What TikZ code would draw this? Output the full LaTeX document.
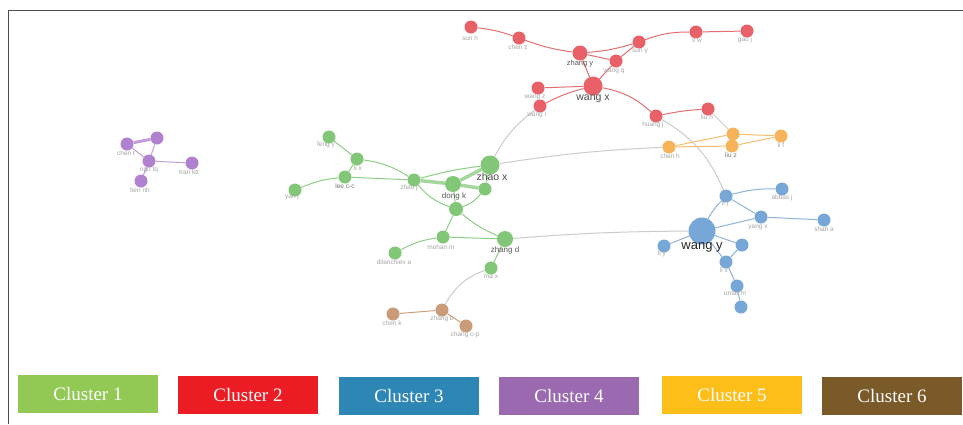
\documentclass[tikz,border=0pt]{standalone}
\usepackage{fontspec}
\setmainfont{Liberation Sans}
\newfontfamily\legfont{Liberation Serif}
\definecolor{nred}{RGB}{230,70,78}
\definecolor{ngreen}{RGB}{108,190,96}
\definecolor{nblue}{RGB}{96,152,208}
\definecolor{norange}{RGB}{245,166,60}
\definecolor{npurple}{RGB}{163,108,198}
\definecolor{nbrown}{RGB}{195,138,98}
\definecolor{ered}{RGB}{229,110,115}
\definecolor{egreen}{RGB}{140,206,132}
\definecolor{eblue}{RGB}{140,180,222}
\definecolor{eorange}{RGB}{248,190,110}
\definecolor{epurple}{RGB}{196,156,218}
\definecolor{ebrown}{RGB}{210,160,126}
\definecolor{egray}{RGB}{204,204,204}
\definecolor{labgray}{RGB}{165,165,165}
\definecolor{cA}{RGB}{146,201,85}
\definecolor{cB}{RGB}{236,28,36}
\definecolor{cC}{RGB}{46,134,181}
\definecolor{cD}{RGB}{155,105,176}
\definecolor{cE}{RGB}{253,190,25}
\definecolor{cF}{RGB}{123,90,42}
\tikzset{
  nd/.style={circle,inner sep=0pt,minimum size=13pt,fill opacity=0.85},
  rn/.style={nd,fill=nred},
  gn/.style={nd,fill=ngreen},
  bn/.style={nd,fill=nblue},
  on/.style={nd,fill=norange},
  pn/.style={nd,fill=npurple},
  brn/.style={nd,fill=nbrown},
  lab/.style={inner sep=0pt,text=labgray,font=\fontsize{6.5}{7.5}\selectfont},
  blab/.style={inner sep=0pt,text=black!70,font=\fontsize{10.5}{12}\selectfont},
  mlab/.style={inner sep=0pt,text=black!65,font=\fontsize{8}{9}\selectfont},
  re/.style={draw=ered,line width=1pt},
  ge/.style={draw=egreen,line width=1pt},
  gth/.style={draw=egreen,line width=3.5pt,draw opacity=0.8},
  be/.style={draw=eblue,line width=1pt},
  oe/.style={draw=eorange,line width=1pt},
  pe/.style={draw=epurple,line width=1pt},
  pth/.style={draw=epurple,line width=3pt},
  bre/.style={draw=ebrown,line width=1pt},
  xe/.style={draw=egray,line width=1pt},
  legbox/.style={minimum width=140pt,minimum height=38pt,inner sep=0pt,text=white,font=\legfont\fontsize{19}{22}\selectfont}
}
\begin{document}
\begin{tikzpicture}[x=1pt,y=-1pt]
\useasboundingbox (0,0) rectangle (963,424);
\fill[white] (0,0) rectangle (963,424);
\coordinate (f1) at (8,424);
\coordinate (f2) at (8,10);
\coordinate (f3) at (963,10);
\draw[black!70,line width=1pt] (f1) -- (f2) -- (f3);

% ---------- red cluster
\node[rn] (sunh) at (471,27) {};
\node[rn] (chenz) at (519,38) {};
\node[rn,minimum size=15pt] (zhangy) at (580,53) {};
\node[rn] (wangq) at (616,61) {};
\node[rn] (suny) at (639,42) {};
\node[rn] (liw) at (696,32) {};
\node[rn] (gaoj) at (747,31) {};
\node[rn,minimum size=19pt] (wangx) at (593,86) {};
\node[rn] (wangz) at (538,88) {};
\node[rn] (wangr) at (540,106) {};
\node[rn] (huangj) at (656,116) {};
\node[rn] (liuh) at (708,109) {};

% ---------- green cluster
\node[gn] (fengy) at (329,137) {};
\node[gn] (lix) at (357,159) {};
\node[gn] (leecc) at (345,177) {};
\node[gn] (yanj) at (295,190) {};
\node[gn] (zhaoj) at (414,180) {};
\node[gn,minimum size=19pt] (zhaox) at (490,165) {};
\node[gn,minimum size=16pt] (dongk) at (453,184) {};
\node[gn] (gsa) at (485,189) {};
\node[gn,minimum size=14pt] (gsb) at (456,209) {};
\node[gn] (mohanm) at (443,237) {};
\node[gn,minimum size=16pt] (zhangd) at (505,239) {};
\node[gn] (dilan) at (395,253) {};
\node[gn] (max) at (491,268) {};

% ---------- blue cluster
\node[bn] (lij) at (726,196) {};
\node[bn] (abbasj) at (782,189) {};
\node[bn] (yangx) at (761,217) {};
\node[bn] (shaha) at (824,220) {};
\node[bn,minimum size=27pt] (wangy) at (702,231) {};
\node[bn] (liy) at (664,246) {};
\node[bn] (bxa) at (742,245) {};
\node[bn] (bxb) at (726,262) {};
\node[bn] (umarm) at (737,286) {};
\node[bn] (bxc) at (741,307) {};

% ---------- orange cluster
\node[on] (chenh) at (669,147) {};
\node[on] (liuza) at (733,134) {};
\node[on] (liuzb) at (732,146) {};
\node[on] (lif) at (781,136) {};

% ---------- purple cluster
\node[pn] (chent) at (127,144) {};
\node[pn] (pxa) at (157,138) {};
\node[pn] (ngotq) at (149,161) {};
\node[pn] (tran) at (192,163) {};
\node[pn] (tiennh) at (141,181) {};

% ---------- brown cluster
\node[brn] (chenk) at (393,314) {};
\node[brn] (zhangb) at (442,310) {};
\node[brn] (changcp) at (466,326) {};

% ---------- cross-cluster edges
\draw[xe] (wangr) to[bend right=12] (zhaox);
\draw[xe] (zhaox) to[bend left=3] (chenh);
\draw[xe] (huangj) to[bend left=18] (lij);
\draw[xe] (liuh) -- (liuza);
\draw[xe] (zhangd) to[bend left=2] (wangy);
\draw[xe] (max) to[bend right=20] (zhangb);

% ---------- red edges
\draw[re] (sunh) to[bend left=6] (chenz);
\draw[re] (chenz) to[bend right=6] (zhangy);
\draw[re] (zhangy) to[bend right=6] (suny);
\draw[re] (suny) to[bend left=10] (liw);
\draw[re] (liw) -- (gaoj);
\draw[re] (zhangy) -- (wangq);
\draw[re] (zhangy) -- (wangx);
\draw[re] (wangq) -- (wangx);
\draw[re] (wangq) -- (suny);
\draw[re] (wangz) -- (wangx);
\draw[re] (wangr) to[bend left=6] (wangx);
\draw[re] (wangx) to[bend left=15] (huangj);
\draw[re] (huangj) to[bend left=4] (liuh);

% ---------- green edges
\draw[ge] (fengy) -- (lix);
\draw[ge] (lix) -- (leecc);
\draw[ge] (lix) to[bend left=12] (zhaoj);
\draw[ge] (yanj) to[bend left=8] (leecc);
\draw[ge] (leecc) -- (zhaoj);
\draw[ge] (zhaoj) to[bend left=4] (zhaox);
\draw[gth] (zhaoj) -- (dongk);
\draw[gth] (dongk) -- (zhaox);
\draw[gth] (dongk) -- (gsa);
\draw[ge] (zhaox) -- (gsa);
\draw[ge] (zhaoj) to[bend right=15] (gsb);
\draw[ge] (gsa) to[bend left=15] (gsb);
\draw[ge] (dongk) -- (gsb);
\draw[ge] (gsb) -- (mohanm);
\draw[ge] (gsb) to[bend right=8] (zhangd);
\draw[ge] (mohanm) to[bend right=10] (dilan);
\draw[ge] (mohanm) -- (zhangd);
\draw[ge] (zhangd) -- (max);

% ---------- blue edges
\draw[be] (lij) to[bend left=8] (abbasj);
\draw[be] (lij) -- (yangx);
\draw[be] (yangx) -- (shaha);
\draw[be] (lij) to[bend right=8] (wangy);
\draw[be] (wangy) -- (yangx);
\draw[be] (wangy) -- (liy);
\draw[be] (wangy) -- (bxa);
\draw[be] (wangy) -- (bxb);
\draw[be] (bxa) -- (bxb);
\draw[be] (bxb) -- (umarm);
\draw[be] (umarm) -- (bxc);

% ---------- orange edges
\draw[oe] (chenh) -- (liuza);
\draw[oe] (chenh) -- (liuzb);
\draw[oe] (liuza) -- (lif);
\draw[oe] (liuzb) -- (lif);
\draw[oe] (liuza) -- (liuzb);

% ---------- purple edges
\draw[pth] (chent) -- (pxa);
\draw[pe] (pxa) -- (ngotq);
\draw[pe] (chent) -- (ngotq);
\draw[pe] (ngotq) -- (tran);
\draw[pe] (ngotq) -- (tiennh);

% ---------- brown edges
\draw[bre] (chenk) -- (zhangb);
\draw[bre] (zhangb) -- (changcp);

% ---------- labels
\node[lab] (t-sunh) at (470,38) {sun h};
\node[lab] (t-chenz) at (518,47) {chen z};
\node[mlab,font=\fontsize{7.5}{8}\selectfont] (t-zhangy) at (580,64) {zhang y};
\node[lab] (t-wangq) at (614,71) {wang q};
\node[lab] (t-suny) at (640,51) {sun y};
\node[lab] (t-liw) at (697,40) {li w};
\node[lab] (t-gaoj) at (745,40) {gao j};
\node[blab] (t-wangx) at (593,99) {wang x};
\node[lab] (t-wangz) at (535,97) {wang z};
\node[lab] (t-wangr) at (537,115) {wang r};
\node[lab] (t-huangj) at (653,125) {huang j};
\node[lab] (t-liuh) at (707,117) {liu h};

\node[lab] (t-fengy) at (326,145) {feng y};
\node[lab] (t-lix) at (358,168) {li x};
\node[lab,text=black!55] (t-leecc) at (345,186) {lee c-c};
\node[lab] (t-yanj) at (292,197) {yan j};
\node[lab] (t-zhaoj) at (409,188) {zhao j};
\node[blab] (t-zhaox) at (492,177) {zhao x};
\node[mlab] (t-dongk) at (454,196) {dong k};
\node[lab] (t-mohanm) at (441,247) {mohan m};
\node[mlab] (t-zhangd) at (505,250) {zhang d};
\node[lab] (t-dilan) at (394,262) {dilanchiev a};
\node[lab] (t-max) at (491,277) {ma x};

\node[lab] (t-lij) at (725,204) {li j};
\node[lab] (t-abbasj) at (782,198) {abbas j};
\node[lab] (t-yangx) at (758,227) {yang x};
\node[lab] (t-shaha) at (824,229) {shah a};
\node[blab,text=black!85,font=\fontsize{13}{14}\selectfont] (t-wangy) at (702,247) {wang y};
\node[lab] (t-liy) at (662,254) {li y};
\node[lab] (t-bxb) at (724,270) {li x};
\node[lab] (t-umarm) at (735,294) {umar m};

\node[lab] (t-chenh) at (670,156) {chen h};
\node[lab,text=black!55] (t-liuz) at (731,155) {liu z};
\node[lab] (t-lif) at (781,145) {li f};

\node[lab] (t-chent) at (126,153) {chen t};
\node[lab] (t-ngotq) at (149,170) {ngo tq};
\node[lab] (t-tran) at (189,172) {tran ktt};
\node[lab] (t-tiennh) at (140,190) {tien nh};

\node[lab] (t-chenk) at (392,323) {chen k};
\node[lab] (t-zhangb) at (442,319) {zhang b};
\node[lab] (t-changcp) at (465,335) {chang c-p};

% ---------- legend
\node[legbox,fill=cA] (k1) at (88,394) {Cluster 1};
\node[legbox,fill=cB] (k2) at (248,395) {Cluster 2};
\node[legbox,fill=cC] (k3) at (409,396) {Cluster 3};
\node[legbox,fill=cD] (k4) at (569,396) {Cluster 4};
\node[legbox,fill=cE] (k5) at (732,395) {Cluster 5};
\node[legbox,fill=cF] (k6) at (892,396) {Cluster 6};
\end{tikzpicture}
\end{document}
